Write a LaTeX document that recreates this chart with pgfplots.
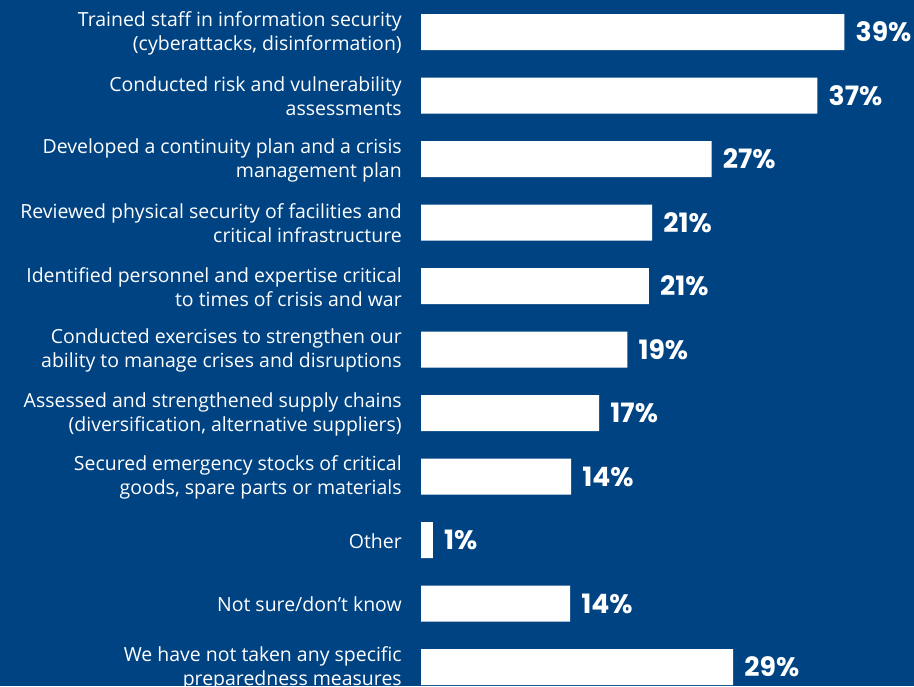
\documentclass[border=0pt]{standalone}
\usepackage{pgfplots}
\pgfplotsset{compat=1.18}
\usepackage{fontspec}
\setmainfont{Open Sans}
\newfontfamily\pctfont{Poppins}[BoldFont={* Bold}]
\definecolor{bg}{RGB}{0,67,131}
\begin{document}
\begin{tikzpicture}[x=1pt,y=1pt]
\useasboundingbox (0,0) rectangle (685.5,514.5);
\fill[bg] (0,0) rectangle (685.5,514.5);
\begin{axis}[
  at={(315.75pt,-9.5625pt)}, anchor=south west,
  scale only axis, width=364.5pt, height=523.875pt,
  xbar, bar width=27pt,
  xmin=0, xmax=45, ymin=-0.5, ymax=10.5, y dir=reverse,
  hide x axis,
  axis line style={draw=none},
  major tick length=0pt,
  ytick={0,...,10},
  yticklabels={
    {Trained staff in information security\\(cyberattacks, disinformation)},
    {Conducted risk and vulnerability\\assessments},
    {Developed a continuity plan and a crisis\\management plan},
    {Reviewed physical security of facilities and\\critical infrastructure},
    {Identified personnel and expertise critical\\to times of crisis and war},
    {Conducted exercises to strengthen our\\ability to manage crises and disruptions},
    {Assessed and strengthened supply chains\\(diversification, alternative suppliers)},
    {Secured emergency stocks of critical\\goods, spare parts or materials},
    {Other},
    {Not sure/don’t know},
    {We have not taken any specific\\preparedness measures}},
  yticklabel style={align=right, text=white, inner sep=0pt, xshift=-14.25pt, yshift=-0.75pt,
    font=\fontsize{14.6}{18}\selectfont},
  nodes near coords={\pgfmathprintnumber[fixed,precision=0,assume math mode=true]{\pgfplotspointmeta}\%},
  nodes near coords style={font=\pctfont\bfseries\fontsize{20}{24}\selectfont, text=white,
    anchor=west, inner sep=0pt, xshift=8.25pt},
]
\addplot[fill=white, draw=none] coordinates {
  (39.2,0) (36.7,1) (26.9,2) (21.4,3) (21.1,4) (19.1,5) (16.5,6) (13.9,7) (1.1,8) (13.8,9) (28.9,10)};
\end{axis}
\end{tikzpicture}
\end{document}
